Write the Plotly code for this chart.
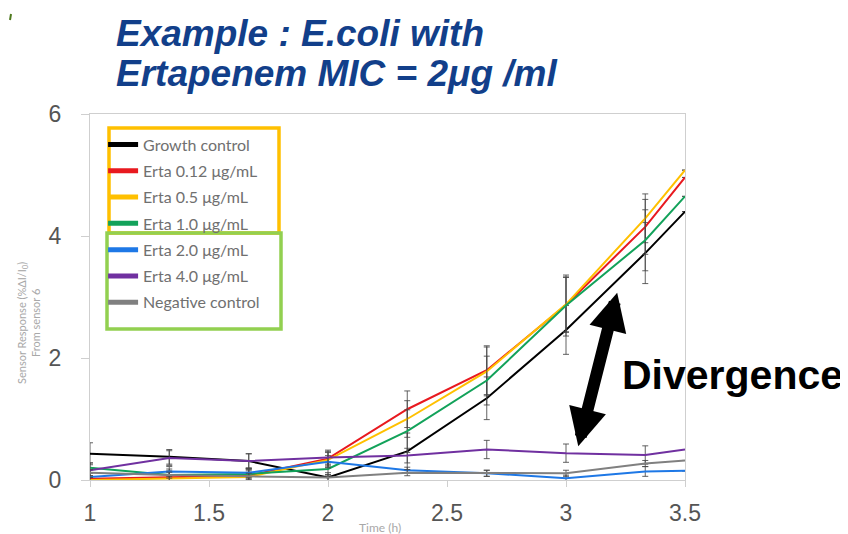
import numpy as np
import plotly.graph_objects as go

# ---------------- data ----------------
time_h = [1.0, 1.333, 1.667, 2.0, 2.333, 2.667, 3.0, 3.333, 3.5]
series_names = ["Growth control", "Erta 0.12 μg/mL", "Erta 0.5 μg/mL", "Erta 1.0 μg/mL",
                "Erta 2.0 μg/mL", "Erta 4.0 μg/mL", "Negative control"]
growth_control = [0.43, 0.38, 0.31, 0.04, 0.47, 1.34, 2.46, 3.72, 4.40]
erta_012 = [0.02, 0.05, 0.07, 0.35, 1.16, 1.80, 2.87, 4.15, 4.96]
erta_05 = [0.00, 0.03, 0.05, 0.33, 1.00, 1.78, 2.88, 4.29, 5.08]
erta_10 = [0.20, 0.08, 0.10, 0.18, 0.80, 1.63, 2.86, 3.93, 4.65]
erta_20 = [0.05, 0.14, 0.12, 0.30, 0.16, 0.11, 0.03, 0.14, 0.15]
erta_40 = [0.16, 0.36, 0.31, 0.37, 0.40, 0.50, 0.44, 0.41, 0.50]
negative_control = [0.12, 0.08, 0.06, 0.04, 0.12, 0.11, 0.11, 0.27, 0.32]

err_growth = [0.18, 0.12, 0.12, 0.08, 0.30, 0.35, 0.40, 0.50, None]
err_012 = [0.05, 0.10, 0.10, 0.12, 0.30, 0.40, 0.45, 0.45, None]
err_05 = [0.05, 0.10, 0.10, 0.12, 0.30, 0.40, 0.45, 0.40, None]
err_10 = [0.08, 0.10, 0.08, 0.10, 0.35, 0.40, 0.50, 0.50, None]
err_20 = [0.06, 0.08, 0.08, 0.10, 0.05, 0.05, 0.05, 0.08, None]
err_40 = [0.12, 0.12, 0.12, 0.12, 0.12, 0.15, 0.15, 0.15, None]
err_neg = [0.05, 0.05, 0.05, 0.05, 0.05, 0.05, 0.05, 0.05, None]

x_ticks = [1, 1.5, 2, 2.5, 3, 3.5]
x_tick_labels = ["1", "1.5", "2", "2.5", "3", "3.5"]
y_ticks = [0, 2, 4, 6]
y_tick_labels = ["0", "2", "4", "6"]

values = [growth_control, erta_012, erta_05, erta_10, erta_20, erta_40, negative_control]
errors = [err_growth, err_012, err_05, err_10, err_20, err_40, err_neg]
colors = ["#000000", "#E8191F", "#FFC000", "#12A25A", "#1E78E6", "#7030A0", "#808080"]

# screen layout helpers (page body adds an 8px offset)
PL, PR, PT, PB = 90, 685, 114, 480   # plot box in screen pixels
PW, PH = PR - PL, PB - PT


def px(sx):
    return (sx - PL) / PW


def py(sy):
    return (PB - sy) / PH


fig = go.Figure()

for name, vals, errs, col in zip(series_names, values, errors, colors):
    e = [np.nan if v is None else v for v in errs]
    fig.add_trace(go.Scatter(
        x=time_h, y=vals, mode="lines", name=name, showlegend=False,
        line=dict(color=col, width=2),
        error_y=dict(type="data", array=e, visible=True, color="rgba(70,70,70,0.85)",
                     thickness=1, width=3),
        cliponaxis=False,
    ))

# legend entries (thicker swatches like the original)
for i, (name, col) in enumerate(zip(series_names, colors)):
    fig.add_trace(go.Scatter(
        x=[None], y=[None], mode="lines", name=name, legendgroup=f"g{i}",
        line=dict(color=col, width=5), showlegend=True,
    ))

fig.update_layout(
    width=848, height=534,
    margin=dict(l=PL - 8, r=848 - (PR - 8), t=PT - 8, b=534 - (PB - 8)),
    paper_bgcolor="white", plot_bgcolor="white",
    showlegend=True,
    legend=dict(x=0.022, y=0.963, xanchor="left", yanchor="top",
                bgcolor="rgba(0,0,0,0)", tracegroupgap=2.5, itemwidth=30,
                font=dict(family="Lato", size=16, color="#707070")),
    font=dict(family="Liberation Sans"),
)

fig.update_xaxes(
    range=[1, 3.5], tickvals=x_ticks, ticktext=x_tick_labels,
    showgrid=False, zeroline=False, showline=True, mirror=True,
    linecolor="#CFCFCF", linewidth=1, automargin=False,
    ticks="outside", ticklen=6, tickcolor="#CFCFCF",
    tickfont=dict(family="Liberation Sans", size=23, color="#555555"),
    ticklabelstandoff=6,
)
fig.update_yaxes(
    range=[0, 6], tickvals=y_ticks, ticktext=y_tick_labels,
    showgrid=False, zeroline=False, showline=True, mirror=True,
    linecolor="#CFCFCF", linewidth=1, automargin=False,
    ticks="outside", ticklen=8, tickcolor="#CFCFCF",
    tickfont=dict(family="Liberation Sans", size=23, color="#555555"),
    ticklabelstandoff=15,
)

# highlight boxes around legend groups
fig.add_shape(type="rect", xref="paper", yref="paper",
              x0=px(109), x1=px(279), y0=py(233), y1=py(128),
              line=dict(color="#FFC000", width=3.5), fillcolor="rgba(0,0,0,0)")
fig.add_shape(type="rect", xref="paper", yref="paper",
              x0=px(107), x1=px(281), y0=py(329), y1=py(233),
              line=dict(color="#92D050", width=3.5), fillcolor="rgba(0,0,0,0)")

# small mark at the top-left corner of the slide
fig.add_shape(type="line", xref="paper", yref="paper",
              x0=px(11), x1=px(10), y0=py(14), y1=py(20),
              line=dict(color="#4E7A1E", width=2))

# title lines
title_font = dict(family="Liberation Sans", size=37, color="#123F8A", weight="bold", style="italic")
fig.add_annotation(text="Example : E.coli with", xref="paper", yref="paper",
                   x=px(114), y=py(33), xanchor="left", yanchor="middle",
                   showarrow=False, font=title_font)
fig.add_annotation(text="Ertapenem MIC = 2μg /ml", xref="paper", yref="paper",
                   x=px(114), y=py(73), xanchor="left", yanchor="middle",
                   showarrow=False, font=title_font)

# axis titles
fig.add_annotation(text="Sensor Response (%ΔI/I<sub>0</sub>)<br>From sensor 6",
                   xref="paper", yref="paper", x=px(28), y=py(323),
                   xanchor="center", yanchor="middle",
                   textangle=-90, showarrow=False,
                   font=dict(family="Lato", size=11, color="#A8A8A8"))
fig.add_annotation(text="Time (h)", xref="paper", yref="paper", x=px(380), y=py(527),
                   xanchor="center", yanchor="middle",
                   showarrow=False, font=dict(family="Lato", size=12, color="#A8A8A8"))

# divergence arrow and label
fig.add_annotation(x=3.215, y=3.07, ax=3.05, ay=0.53, xref="x", yref="y",
                   axref="x", ayref="y", text="", showarrow=True,
                   arrowside="end+start", arrowhead=2, startarrowhead=2,
                   arrowwidth=12, arrowsize=0.63, startarrowsize=0.63,
                   arrowcolor="#000000")
fig.add_annotation(text="Divergence", xref="paper", yref="paper",
                   x=px(620), y=py(375), xanchor="left", yanchor="middle",
                   showarrow=False,
                   font=dict(family="Liberation Sans", size=41, color="#000000", weight="bold"))

fig.write_html("out.html")
